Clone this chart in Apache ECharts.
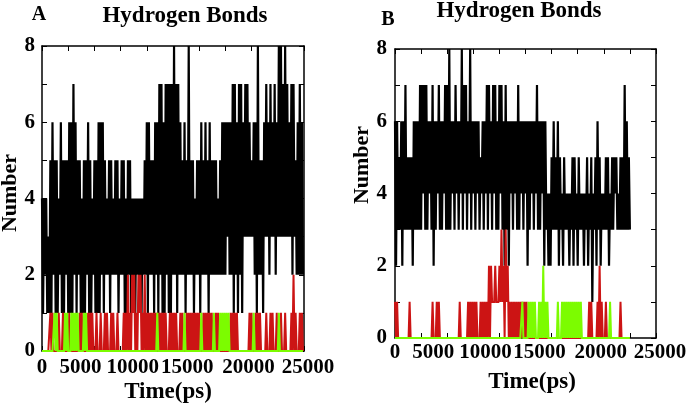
<!DOCTYPE html>
<html><head><meta charset="utf-8">
<script src="https://cdn.jsdelivr.net/npm/echarts@6/dist/echarts.min.js"></script>
<style>html,body{margin:0;padding:0;background:#fff}#c{width:694px;height:407px}</style>
</head><body><div id="c"></div>
<script>
// time between saved frames (ps); each hi/lo pair spans two frames
const STEP = 100;
const xTickLabels = [0, 5000, 10000, 15000, 20000, 25000];
const yTickLabels = [0, 2, 4, 6, 8];

// ---- Panel A ----
const aBlackHi = [4,4,4,3,5,6,5,5,4,6, 5,5,5,6,6,7,6,5,5,4, 5,5,6,5,4,5,5,6,6,6, 5,4,5,5,4,5,5,4,5,5,
  4,5,5,4,4,4,4,4,4,5, 6,6,5,5,6,6,7,7,6,7, 7,7,7,8,7,7,6,5,6,5, 8,5,5,4,5,5,6,5,6,5,
  6,5,5,5,4,5,6,6,6,6, 6,7,7,6,7,7,6,7,7,6, 5,6,6,8,5,5,6,7,6,7, 6,7,6,8,8,7,8,7,6,7, 7,5,6,7,6];
const aBlackLo = [1,2,1,1,1,2,1,1,2,1, 1,2,1,1,1,2,1,2,1,1, 1,2,1,1,2,1,1,1,2,1, 2,2,1,2,2,2,1,2,2,1,
  1,2,1,1,1,2,1,1,2,2, 1,2,2,1,2,1,2,1,1,2, 1,1,2,2,1,2,2,2,1,2, 2,2,1,2,2,1,2,2,2,1,
  2,2,2,2,2,2,2,2,3,2, 2,1,2,1,2,1,3,3,3,3, 3,2,1,2,2,1,3,3,2,3, 3,2,3,3,3,3,3,3,3,2, 3,2,2,2,2];
const aRedHi = [0,0,0,0,1,1,0,0,1,0, 1,0,0,1,0,0,0,0,1,1, 0,0,1,1,1,0,1,0,1,0, 1,1,0,1,1,0,1,0,0,1,
  1,2,1,2,2,1,2,2,1,2, 1,1,1,1,1,1,1,1,1,1, 0,1,1,1,1,0,1,1,0,1, 1,1,1,1,1,1,0,1,1,1,
  1,1,0,1,1,0,0,0,0,0, 1,1,1,1,0,0,0,0,0,1, 1,0,1,1,1,0,0,1,0,1, 1,0,1,0,1,0,1,0,0,1, 2,1,0,1,1];
const aRedLo = [0,0,0,0,0,0,0,0,0,0, 0,0,0,0,0,0,0,0,0,0, 0,0,0,0,0,0,0,0,0,0, 0,0,0,0,0,0,0,0,0,0,
  0,0,0,1,0,0,1,0,0,0, 0,0,0,0,0,0,0,0,0,0, 0,0,0,0,0,0,0,0,0,0, 0,0,0,0,0,0,0,0,0,0,
  0,0,0,0,0,0,0,0,0,0, 0,0,0,0,0,0,0,0,0,0, 0,0,0,0,0,0,0,0,0,0, 0,0,0,0,0,0,0,0,0,0, 0,0,0,0,0];
const aGreenHi = [0,0,0,0,0,0,1,1,0,0, 0,1,1,0,1,1,1,1,0,0, 1,1,0,0,0,0,0,0,0,0, 0,0,0,0,0,0,0,0,0,0,
  0,0,0,0,0,0,0,0,0,0, 0,0,0,0,0,1,0,0,0,0, 0,0,0,0,0,0,0,0,1,0, 0,0,0,0,0,0,1,0,0,0,
  0,0,1,0,0,1,1,1,1,1, 0,0,0,0,0,0,0,0,0,0, 0,1,0,0,0,0,0,0,0,0, 0,0,0,1,0,0,0,0,0,0, 0,0,0,0,0];
const aGreenLo = [0,0,0,0,0,0,0,0,0,0, 0,0,0,0,0,0,0,0,0,0, 0,0,0,0,0,0,0,0,0,0, 0,0,0,0,0,0,0,0,0,0,
  0,0,0,0,0,0,0,0,0,0, 0,0,0,0,0,0,0,0,0,0, 0,0,0,0,0,0,0,0,0,0, 0,0,0,0,0,0,0,0,0,0,
  0,0,0,0,0,0,0,0,0,0, 0,0,0,0,0,0,0,0,0,0, 0,0,0,0,0,0,0,0,0,0, 0,0,0,0,0,0,0,0,0,0, 0,0,0,0,0];

// ---- Panel B ----
const bBlackHi = [6,6,5,6,6,7,5,5,5,6, 6,6,7,7,7,7,6,6,7,6, 6,7,6,6,7,7,8,6,6,7, 6,6,8,7,7,6,8,6,6,6,
  6,5,6,6,7,7,6,7,7,6, 7,7,6,7,6,6,6,6,6,7, 6,6,6,6,6,6,6,6,7,6, 6,6,6,4,4,5,6,5,6,5,
  4,5,4,4,4,5,5,4,5,4, 4,4,5,4,5,4,5,6,5,4, 4,5,5,4,5,5,5,4,5,5, 7,6,5];
const bBlackLo = [2,3,3,2,3,3,3,3,2,3, 3,3,3,4,3,3,4,3,2,3, 4,3,3,4,3,3,3,4,3,4, 3,4,3,4,3,4,3,4,3,4,
  3,4,3,4,3,4,3,4,3,3, 4,3,2,3,2,4,3,4,3,3, 4,3,4,2,3,4,3,4,3,3, 4,2,3,2,2,3,3,3,2,3,
  2,3,3,2,3,2,3,2,3,3, 2,3,2,3,1,3,2,3,2,3, 3,3,2,3,3,4,3,3,3,3, 3,3,3];
const bRedHi = [1,1,0,0,0,0,0,1,0,0, 0,0,0,0,0,0,0,0,1,0, 1,1,0,0,0,0,0,0,0,0, 0,1,0,0,0,1,1,1,1,1,
  0,1,1,1,1,2,2,1,2,1, 2,3,2,3,2,1,1,1,1,1, 1,1,1,1,0,0,0,0,0,0, 0,0,0,0,0,0,0,0,0,0,
  0,0,0,0,0,0,0,0,0,0, 0,0,0,1,1,0,0,1,2,1, 0,1,0,0,0,0,0,0,1,0, 0,0,0];
const bRedLo = [0,0,0,0,0,0,0,0,0,0, 0,0,0,0,0,0,0,0,0,0, 0,0,0,0,0,0,0,0,0,0, 0,0,0,0,0,0,0,0,0,0,
  0,0,0,0,0,0,1,1,1,1, 1,1,0,1,0,0,0,0,0,0, 0,0,0,0,0,0,0,0,0,0, 0,0,0,0,0,0,0,0,0,0,
  0,0,0,0,0,0,0,0,0,0, 0,0,0,0,0,0,0,0,0,0, 0,0,0,0,0,0,0,0,0,0, 0,0,0];
const bGreenHi = [0,0,0,0,0,0,0,0,0,0, 0,0,0,0,0,0,0,0,0,0, 0,0,0,0,0,0,0,0,0,0, 0,0,0,0,0,0,0,0,0,0,
  0,0,0,0,0,0,0,0,0,0, 0,0,0,0,0,0,0,0,0,0, 0,1,0,0,1,1,1,1,0,1, 1,2,1,1,0,0,0,0,1,0,
  1,1,1,1,1,1,1,1,1,1, 0,0,0,0,0,0,0,0,0,0, 0,0,0,1,0,0,0,0,0,0, 0,0,0];
const bGreenLo = [0,0,0,0,0,0,0,0,0,0, 0,0,0,0,0,0,0,0,0,0, 0,0,0,0,0,0,0,0,0,0, 0,0,0,0,0,0,0,0,0,0,
  0,0,0,0,0,0,0,0,0,0, 0,0,0,0,0,0,0,0,0,0, 0,0,0,0,0,0,0,0,0,0, 0,0,0,0,0,0,0,0,0,0,
  0,0,0,0,0,0,0,0,0,0, 0,0,0,0,0,0,0,0,0,0, 0,0,0,0,0,0,0,0,0,0, 0,0,0];

function frames(hi, lo) {
  const out = [];
  for (let k = 0; k < hi.length; k++) {
    out.push([2 * k * STEP, hi[k]]);
    out.push([(2 * k + 1) * STEP, lo[k]]);
  }
  return out;
}

const FONT = 'Liberation Serif';
const BLACK = '#000000', RED = '#cc1414', GREEN = '#7cfc00';

// the source figure's x tick labels sit slightly off their ticks; rich styles nudge them
const labelStyle = { color: '#000', fontFamily: FONT, fontWeight: 'bold', fontSize: 21 };
const rich = {
  c: Object.assign({}, labelStyle),
  l28: Object.assign({ padding: [0, 28, 0, 0] }, labelStyle),
  l24: Object.assign({ padding: [0, 24, 0, 0] }, labelStyle),
  l6: Object.assign({ padding: [0, 6, 0, 0] }, labelStyle),
  r8: Object.assign({ padding: [0, 0, 0, 8] }, labelStyle)
};
const nudge = { 0: 'c', 5000: 'l28', 10000: 'l28', 15000: 'l24', 20000: 'l6', 25000: 'r8' };

function xAx(grid, bottom, margin) {
  return {
    type: 'value', gridIndex: grid, position: bottom ? 'bottom' : 'top',
    min: 0, max: 25000, interval: 2500,
    axisLine: { show: true, onZero: false, lineStyle: { color: '#000', width: 1.5 } },
    axisTick: { show: true, inside: true, length: 5, lineStyle: { color: '#000', width: 1 } },
    axisLabel: { show: bottom, margin: margin, color: '#000', fontFamily: FONT, fontWeight: 'bold', fontSize: 21,
      rich: rich,
      formatter: v => xTickLabels.includes(v) ? '{' + nudge[v] + '|' + v + '}' : '' },
    splitLine: { show: false }
  };
}
function yAx(grid, left, margin) {
  return {
    type: 'value', gridIndex: grid, position: left ? 'left' : 'right',
    min: 0, max: 8, interval: 1,
    axisLine: { show: true, onZero: false, lineStyle: { color: '#000', width: 1.5 } },
    axisTick: { show: true, inside: true, length: 5, lineStyle: { color: '#000', width: 1 } },
    axisLabel: { show: left, margin: margin, color: '#000', fontFamily: FONT, fontWeight: 'bold', fontSize: 21,
      formatter: v => yTickLabels.includes(v) ? String(v) : '' },
    splitLine: { show: false }
  };
}
function line(xi, yi, data, color, w) {
  return { type: 'line', xAxisIndex: xi, yAxisIndex: yi, data: data, symbol: 'none', showSymbol: false,
    lineStyle: { color: color, width: w, join: 'miter' }, silent: true, animation: false, clip: true };
}
function txt(x, y, s, size, rot) {
  return { type: 'text', x: x, y: y, rotation: rot || 0,
    style: { text: s, fill: '#000', font: 'bold ' + size + 'px "' + FONT + '"', textAlign: 'center', textVerticalAlign: 'middle' } };
}

const chart = echarts.init(document.getElementById('c'), null, { renderer: 'canvas' });
chart.setOption({
  animation: false,
  backgroundColor: '#fff',
  grid: [
    { left: 42, top: 46, width: 262, height: 305 },
    { left: 395, top: 49, width: 261, height: 289 }
  ],
  xAxis: [xAx(0, true, 6), xAx(0, false, 0), xAx(1, true, 4), xAx(1, false, 0)],
  yAxis: [yAx(0, true, 7), yAx(0, false, 0), yAx(1, true, 8), yAx(1, false, 0)],
  series: [
    line(0, 0, frames(aBlackHi, aBlackLo), BLACK, 2.2),
    line(0, 0, frames(aRedHi, aRedLo), RED, 2),
    line(0, 0, frames(aGreenHi, aGreenLo), GREEN, 2),
    line(2, 2, frames(bBlackHi, bBlackLo), BLACK, 2.2),
    line(2, 2, frames(bRedHi, bRedLo), RED, 2),
    line(2, 2, frames(bGreenHi, bGreenLo), GREEN, 2)
  ],
  graphic: [
    txt(39, 15, 'A', 20),
    txt(185, 16, 'Hydrogen Bonds', 23),
    txt(388, 20, 'B', 20),
    txt(519, 11, 'Hydrogen Bonds', 23),
    txt(10, 193, 'Number', 22, Math.PI / 2),
    txt(362, 165, 'Number', 22, Math.PI / 2),
    txt(168, 392, 'Time(ps)', 23),
    txt(532, 382, 'Time(ps)', 23)
  ]
});
</script></body></html>
